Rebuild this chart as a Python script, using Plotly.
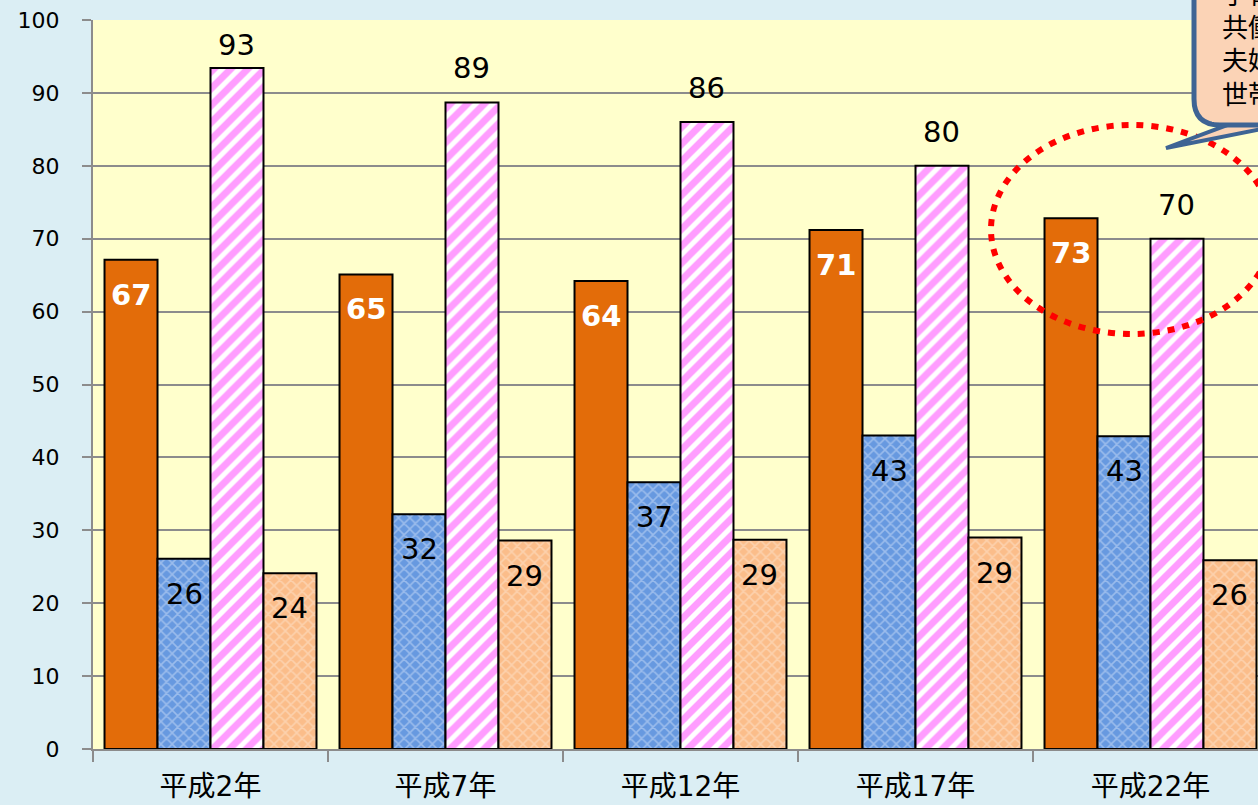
import plotly.graph_objects as go

categories = ["平成2年", "平成7年", "平成12年", "平成17年", "平成22年"]
series_a = [67.1, 65.1, 64.2, 71.2, 72.8]   # orange
series_b = [26.1, 32.2, 36.6, 43.0, 42.9]   # blue
series_c = [93.4, 88.7, 86.0, 80.0, 70.0]   # pink
series_d = [24.1, 28.6, 28.7, 29.0, 25.9]   # peach
y_ticks = list(range(0, 101, 10))
callout_lines = ["子育て", "共働き", "夫婦の", "世帯"]

W, H = 1258, 805
L, R, T, B = 93, 0, 20, 56
PW, PH = W - L - R, H - T - B
CAT_PX = 235.0
x_hi = -0.5 + PW / CAT_PX

def px(x):
    return (x - L) / PW

def py(y):
    return (H - B - y) / PH

FONT = "DejaVu Sans, Noto Sans CJK JP"
fig = go.Figure()

styles = [
    dict(color="#e36c09", pattern=None),
    dict(color="#6a9ce0", pattern=dict(shape="x", fgcolor="#cfe0f8", bgcolor="#6799e0", size=8, solidity=0.35)),
    dict(color="#ffffff", pattern=dict(shape="/", fgcolor="#ff3cff", bgcolor="#ffffff", size=12, solidity=0.58)),
    dict(color="#fbc08e", pattern=dict(shape="x", fgcolor="#fee6d0", bgcolor="#fbbd8a", size=8, solidity=0.35)),
]
names = ["A", "B", "C", "D"]
for vals, st, nm in zip([series_a, series_b, series_c, series_d], styles, names):
    marker = dict(color=st["color"], line=dict(color="#000000", width=2))
    if st["pattern"]:
        marker["pattern"] = st["pattern"]
    fig.add_trace(go.Bar(x=categories, y=vals, name=nm, marker=marker,
                         hoverinfo="skip"))

# value labels
bar_w = CAT_PX * (1 - 0.098) / 4
offsets = [(-1.5 + i) * bar_w for i in range(4)]
label_specs = [
    (series_a, "inside", dict(color="white", size=29, family=FONT, weight="bold")),
    (series_b, "inside", dict(color="black", size=29, family=FONT)),
    (series_c, "outside", dict(color="black", size=29, family=FONT)),
    (series_d, "inside", dict(color="black", size=29, family=FONT)),
]
for k, (vals, pos, fnt) in enumerate(label_specs):
    for cat, v in zip(categories, vals):
        if pos == "inside":
            fig.add_annotation(x=cat, y=v, xref="x", yref="y", text=f"{v:.0f}",
                               showarrow=False, xshift=offsets[k], yshift=-35,
                               yanchor="middle", font=fnt)
        else:
            fig.add_annotation(x=cat, y=min(v, 91.9), xref="x", yref="y", text=f"{v:.0f}",
                               showarrow=False, xshift=offsets[k], yshift=34,
                               yanchor="middle", font=fnt)

# red dotted ellipse
fig.add_shape(type="circle", xref="paper", yref="paper",
              x0=px(991), x1=px(1272), y0=py(334), y1=py(125),
              line=dict(color="#ff0000", width=6, dash="7px,8px"))

# callout pointer + box
fig.add_shape(type="path", xref="paper", yref="paper",
              path=f"M {px(1262)},{py(112)} L {px(1166)},{py(148)} L {px(1262)},{py(129)} Z",
              fillcolor="#fbd3b6", line=dict(color="#3e6494", width=4))
r = 26
x0, x1, y0, y1 = 1194, 1320, -30, 125
path = (f"M {px(x0)},{py(y0)} L {px(x0)},{py(y1 - r)} "
        f"Q {px(x0)},{py(y1)} {px(x0 + r)},{py(y1)} "
        f"L {px(x1)},{py(y1)} L {px(x1)},{py(y0)} Z")
fig.add_shape(type="path", xref="paper", yref="paper", path=path,
              fillcolor="#fbd3b6", line=dict(color="#3e6494", width=5))
fig.add_shape(type="rect", xref="paper", yref="paper",
              x0=px(1212), x1=px(1320), y0=py(111), y1=py(122),
              fillcolor="#fbd3b6", line=dict(width=0))
for i, t in enumerate(callout_lines):
    fig.add_annotation(xref="paper", yref="paper", x=px(1220), y=py(-8 + 33.5 * i),
                       text=t, showarrow=False, xanchor="left", yanchor="middle",
                       font=dict(size=26, color="black", family="Noto Sans CJK JP"))

fig.update_layout(
    width=W, height=H,
    margin=dict(l=L, r=R, t=T, b=B),
    paper_bgcolor="#dbeef4",
    plot_bgcolor="#ffffcc",
    barmode="group", bargap=0.098, bargroupgap=0,
    showlegend=False,
    font=dict(family=FONT, color="black"),
)
fig.update_xaxes(range=[-0.5, x_hi], tickson="boundaries", ticks="outside",
                 ticklen=11, tickwidth=2, tickcolor="#8c8c8c",
                 showline=True, linecolor="#8c8c8c", linewidth=2,
                 showgrid=False, automargin=False,
                 tickfont=dict(size=28, family="DejaVu Sans, Noto Sans CJK JP"),
                 ticklabelstandoff=11)
fig.update_yaxes(range=[0, 100], tickvals=y_ticks, ticks="outside", ticklen=9,
                 tickwidth=2, tickcolor="#8c8c8c", showline=True,
                 linecolor="#8c8c8c", linewidth=2, gridcolor="#8c8c8c",
                 gridwidth=2, zeroline=False, tickfont=dict(size=22),
                 automargin=False, ticklabelstandoff=18)

fig.write_html("out.html")
